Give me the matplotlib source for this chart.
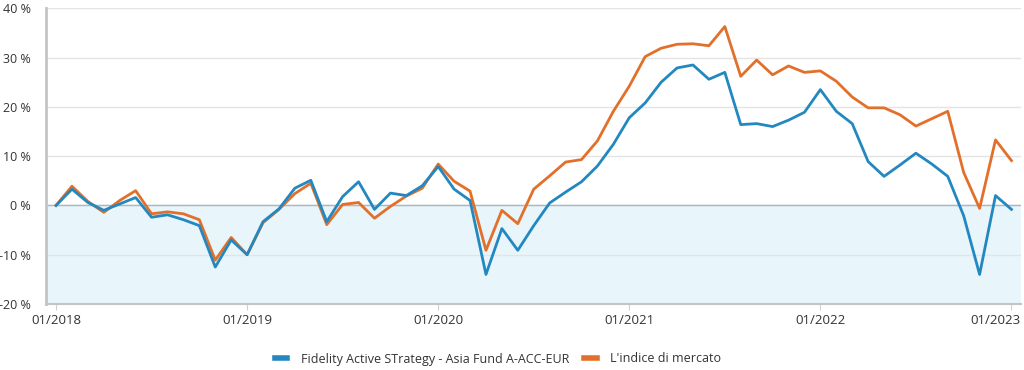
import matplotlib
matplotlib.use("Agg")
import matplotlib.pyplot as plt
import matplotlib.transforms as mtransforms
import numpy as np

# monthly performance, 01/2018 .. 01/2023 (in %)
fund = [0.0, 3.3, 0.6, -1.0, 0.3, 1.6, -2.4, -1.9, -2.9, -4.1,
        -12.5, -7.0, -10.0, -3.3, -0.7, 3.5, 5.1, -3.3, 1.8, 4.8,
        -0.8, 2.5, 2.0, 4.0, 7.9, 3.3, 1.0, -14.0, -4.7, -9.1,
        -4.1, 0.5, 2.7, 4.8, 8.0, 12.4, 17.8, 20.8, 25.0, 27.9,
        28.5, 25.6, 27.0, 16.4, 16.6, 16.0, 17.3, 18.9, 23.5, 19.1,
        16.6, 8.9, 5.9, 8.2, 10.6, 8.4, 5.9, -2.1, -14.0, 2.0,
        -0.8]
index = [0.0, 3.9, 0.8, -1.4, 1.0, 3.0, -1.7, -1.3, -1.7, -2.9,
         -11.1, -6.5, -10.0, -3.5, -0.8, 2.4, 4.5, -3.9, 0.2, 0.6,
         -2.6, -0.2, 1.9, 3.5, 8.4, 4.9, 2.9, -9.1, -1.0, -3.7,
         3.3, 6.0, 8.8, 9.3, 13.1, 19.1, 24.2, 30.2, 31.9, 32.7,
         32.8, 32.4, 36.3, 26.2, 29.5, 26.5, 28.3, 27.0, 27.3, 25.2,
         22.0, 19.8, 19.8, 18.4, 16.1, 17.6, 19.1, 6.7, -0.6, 13.3,
         9.1]
year_labels = ["01/2018", "01/2019", "01/2020", "01/2021", "01/2022", "01/2023"]
y_ticks = [-20, -10, 0, 10, 20, 30, 40]

blue = "#2388c0"
orange = "#e2702a"
plt.rcParams["font.family"] = ["Open Sans", "DejaVu Sans"]

fig = plt.figure(figsize=(10.24, 3.70), dpi=100)
ax = fig.add_axes([46 / 1024, 1 - 304 / 370, (1021 - 46) / 1024, (304 - 8.3) / 370])

x = np.arange(len(fund))
ax.set_xlim(-0.63, 60.6)
ax.set_ylim(-20, 40)

ax.axhspan(-20, 0, color="#e8f5fb", zorder=0)
for t in y_ticks[1:]:
    ax.axhline(t, color="#e4e4e4", lw=1, zorder=1)
ax.axhline(0, color="#a9b9c2", lw=1, zorder=2)

ax.plot(x, fund, color=blue, lw=2, zorder=4, label="Fidelity Active STrategy - Asia Fund A-ACC-EUR")
ax.plot(x, index, color=orange, lw=2, zorder=3, label="L'indice di mercato")

ax.set_yticks(y_ticks)
ax.set_yticklabels([f"{t} %" for t in y_ticks])
ax.set_xticks(np.arange(0, 61, 12))
ax.set_xticklabels(year_labels)
ax.tick_params(axis="y", length=0, pad=11, labelsize=9, labelcolor="#333333")
ax.tick_params(axis="x", length=4, color="#d0d0d0", pad=3, labelsize=9.5, labelcolor="#333333")

# keep the last date label inside the figure
last = ax.get_xticklabels()[-1]
last.set_horizontalalignment("right")
last.set_transform(last.get_transform() + mtransforms.ScaledTranslation(9 / 100, 0, fig.dpi_scale_trans))

for s in ["top", "right"]:
    ax.spines[s].set_visible(False)
ax.spines["left"].set_color("#c4c4c4")
ax.spines["left"].set_linewidth(2)
ax.spines["bottom"].set_color("#c4c4c4")
ax.spines["bottom"].set_linewidth(1.5)

handles, labels = ax.get_legend_handles_labels()
leg = fig.legend(handles, labels, loc="center", bbox_to_anchor=(498 / 1024, 1 - 359 / 370),
                 ncol=2, frameon=False, fontsize=9, handlelength=1.0,
                 columnspacing=1.2, handletextpad=1.1)
for line in leg.get_lines():
    line.set_linewidth(4)
for text in leg.get_texts():
    text.set_color("#333333")

fig.savefig("out.png", dpi=100)
